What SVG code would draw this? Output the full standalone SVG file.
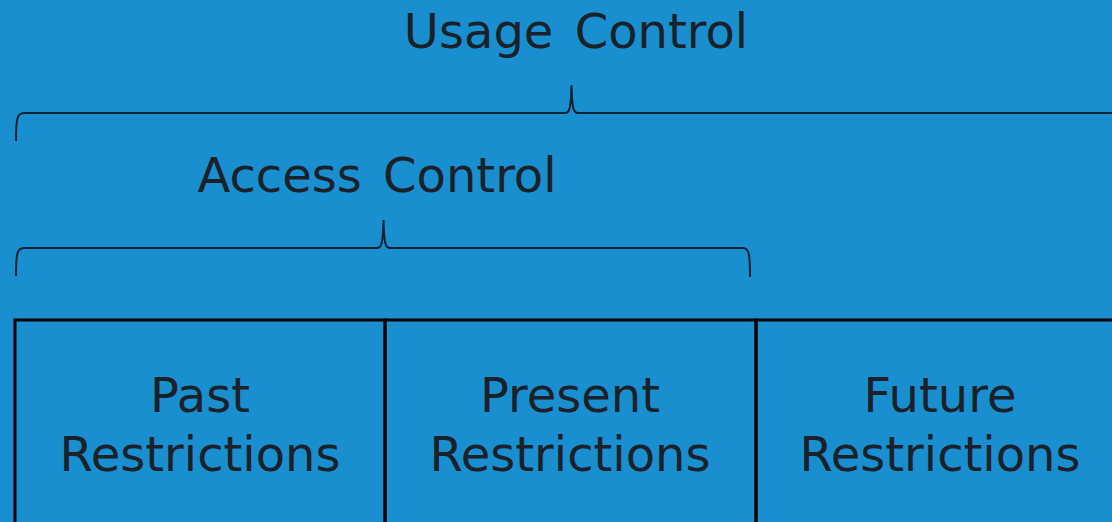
<svg xmlns="http://www.w3.org/2000/svg" width="1112" height="522" viewBox="0 0 1112 522">
<style>
.t{font-family:"DejaVu Sans",Verdana,sans-serif;font-size:48px;fill:#1b2129;text-anchor:middle}
.h{word-spacing:6px}
.brace{fill:none;stroke:#0b2233;stroke-width:2}
.box{fill:none;stroke:#000;stroke-width:3}
</style>
<rect width="1112" height="522" fill="#198fcf"/>
<g id="usage-control">
<text class="t h" x="576" y="48">Usage Control</text>
</g>
<g id="access-control">
<text class="t h" x="377" y="192">Access Control</text>
</g>
<g id="connectors">
<path class="brace" d="M16,141 C16,119 17,113 24,113 L565,113 C569,113 571,110 571.5,85 C572,110 574,113 578,113 L1120,113"/>
<path class="brace" d="M16,276 C16,254 17,248 24,248 L377,248 C381,248 383,245 383.5,220 C384,245 386,248 390,248 L743,248 C749,248 750,254 750,277"/>
</g>
<g id="past">
<rect class="box" x="15" y="320" width="370" height="220"/>
<text class="t" x="200" y="412">Past</text>
<text class="t" x="200" y="471">Restrictions</text>
</g>
<g id="present">
<rect class="box" x="385" y="320" width="371" height="220"/>
<text class="t" x="570" y="412">Present</text>
<text class="t" x="570" y="471">Restrictions</text>
</g>
<g id="future">
<rect class="box" x="756" y="320" width="400" height="220"/>
<text class="t" x="940" y="412">Future</text>
<text class="t" x="940" y="471">Restrictions</text>
</g>
</svg>
